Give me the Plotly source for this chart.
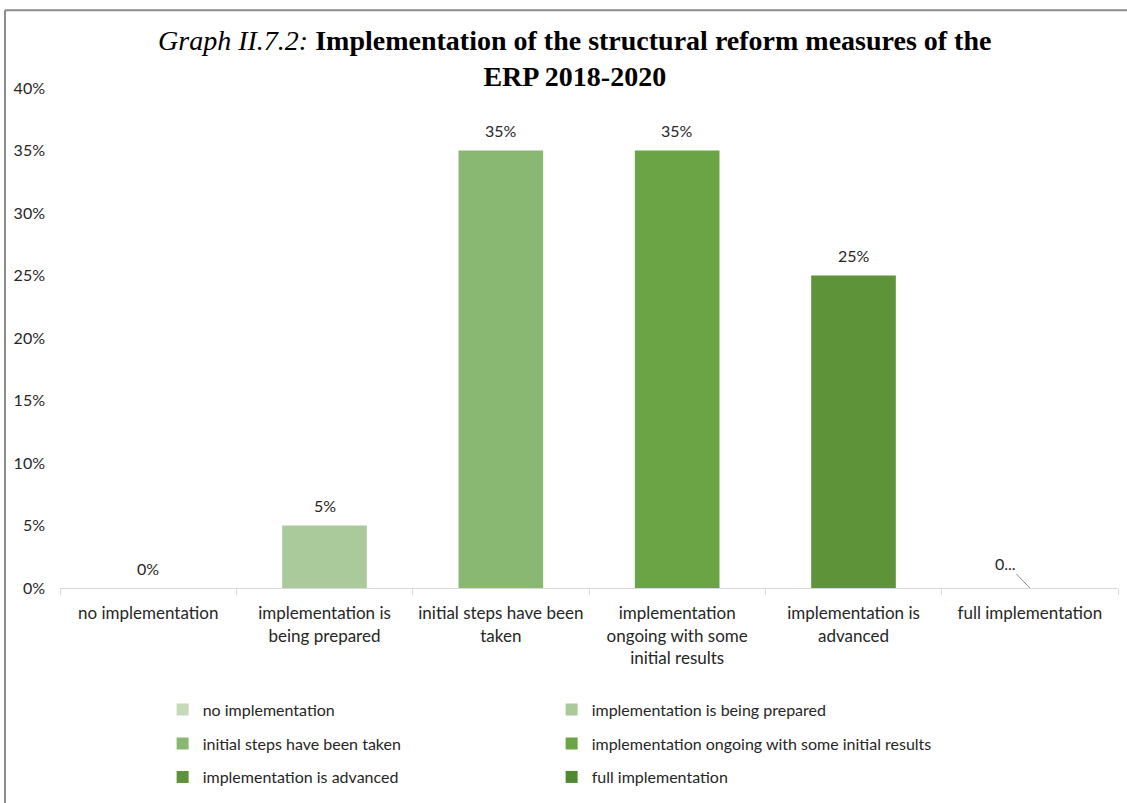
import plotly.graph_objects as go

# Categories, shares and bar colours
categories = [
    "no implementation",
    "implementation is being prepared",
    "initial steps have been taken",
    "implementation ongoing with some initial results",
    "implementation is advanced",
    "full implementation",
]
tick_labels = [
    "no implementation",
    "implementation is<br>being prepared",
    "initial steps have been<br>taken",
    "implementation<br>ongoing with some<br>initial results",
    "implementation is<br>advanced",
    "full implementation",
]
shares = [0.0, 0.05, 0.35, 0.35, 0.25, 0.0]
bar_labels = ["0%", "5%", "35%", "35%", "25%", "0..."]
colors = ["#C5DAB8", "#ABCA9B", "#89B872", "#6AA444", "#5E9339", "#4F8A30"]

# two legend entries per row, three rows
legend_rows = ["legend", "legend", "legend2", "legend2", "legend3", "legend3"]

FONT = "Lato"
TXT = "#262626"

fig = go.Figure()
for cat, val, col, lg in zip(categories, shares, colors, legend_rows):
    fig.add_trace(go.Bar(
        x=[cat], y=[val], name=cat, marker=dict(color=col, line=dict(width=0)),
        width=0.48, legend=lg, hoverinfo="skip",
    ))

# value labels above the bars
for i, (cat, val, lab) in enumerate(zip(categories, shares, bar_labels)):
    if lab.endswith("..."):
        fig.add_annotation(
            x=cat, y=val, text=lab, showarrow=True, arrowhead=0, arrowwidth=1,
            arrowcolor="#8C8C8C", ax=-24, ay=-25, standoff=0,
            font=dict(family=FONT, size=16, color=TXT),
        )
    else:
        fig.add_annotation(
            x=cat, y=val, text=lab, showarrow=False, yshift=20,
            font=dict(family=FONT, size=16, color=TXT),
        )

# chart frame
frame = dict(color="#8C8C8C", width=2)
fig.add_shape(type="line", xref="paper", yref="paper", x0=-0.052, x1=1.2,
              y0=1.1554, y1=1.1554, line=frame)
fig.add_shape(type="line", xref="paper", yref="paper", x0=-0.052, x1=-0.052,
              y0=-0.5, y1=1.1554, line=frame)

legend_common = dict(
    orientation="h", xanchor="left", yanchor="middle", x=0.097,
    entrywidth=344, font=dict(family=FONT, size=16, color=TXT),
    bgcolor="rgba(0,0,0,0)", traceorder="normal",
)

fig.update_layout(
    width=1127, height=803,
    margin=dict(l=60, r=9, t=88, b=213),
    paper_bgcolor="white", plot_bgcolor="white",
    barmode="overlay",
    showlegend=True,
    title=dict(
        text="<i>Graph II.7.2:</i> <b>Implementation of the structural reform measures of the<br>ERP 2018-2020</b>",
        x=0.51, xanchor="center", y=0.938, yanchor="middle", xref="container",
        font=dict(family="Liberation Serif", size=28, color="black"),
    ),
    font=dict(family=FONT, size=16, color=TXT),
    xaxis=dict(
        tickmode="array", tickvals=categories, ticktext=tick_labels,
        showline=True, linecolor="#D9D9D9", linewidth=1,
        ticks="outside", tickson="boundaries", ticklen=6, tickcolor="#D9D9D9",
        ticklabelstandoff=10,
        showgrid=False, tickfont=dict(family=FONT, size=17, color=TXT),
    ),
    yaxis=dict(
        range=[0, 0.40], dtick=0.05, tickformat=".0%", showgrid=False,
        zeroline=False, showline=False, ticks="", ticklabelstandoff=14,
        tickfont=dict(family=FONT, size=16, color=TXT),
    ),
    legend=dict(legend_common, y=-0.243),
    legend2=dict(legend_common, y=-0.311),
    legend3=dict(legend_common, y=-0.378),
)

fig.write_html("out.html")
